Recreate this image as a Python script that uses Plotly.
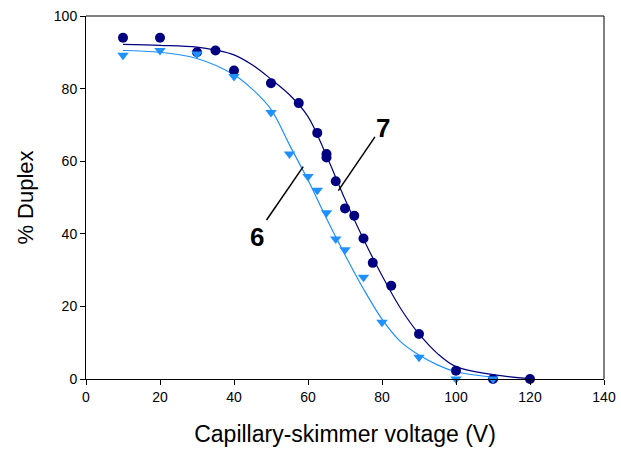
import plotly.graph_objects as go

# Series 7 (dark circles)
x7 = [10, 20, 30, 35, 40, 50, 57.5, 62.5, 65, 65, 67.5, 70, 72.5, 75, 77.5, 82.5, 90, 100, 110, 120]
y7 = [94, 94, 90, 90.5, 85, 81.5, 76, 67.8, 62, 61, 54.5, 47, 45, 38.7, 32, 25.7, 12.4, 2.3, 0, 0]
# Series 6 (light triangles)
x6 = [10, 20, 30, 40, 50, 55, 60, 62.5, 65, 67.5, 70, 75, 80, 90, 100, 110]
y6 = [89.2, 90.5, 89.5, 83.3, 73.4, 62, 55.8, 52, 45.8, 38.6, 35.6, 28, 15.6, 6, 0, 0]

# Fitted curves
fx7 = [10, 20, 30, 35, 40, 45, 50, 55, 60, 65, 70, 75, 80, 85, 90, 95, 100, 110, 120]
fy7 = [92.2, 91.9, 91.4, 90.6, 89.3, 86.5, 82.6, 78.3, 72.3, 61.5, 49.5, 38.5, 28.5, 19.5, 12.4, 7.0, 3.4, 1.2, 0.1]
fx6 = [10, 20, 30, 40, 45, 50, 55, 60, 65, 70, 75, 80, 85, 90, 95, 100, 110]
fy6 = [90.5, 90.0, 88.3, 83.8, 79.8, 74.3, 64.5, 54.8, 44.2, 34.2, 24.8, 16.5, 10.3, 6.6, 3.9, 2.0, 0.5]

x_ticks = [0, 20, 40, 60, 80, 100, 120, 140]
y_ticks = [0, 20, 40, 60, 80, 100]

DARK = "#000080"
LIGHT = "#1E90FF"

fig = go.Figure()
fig.add_trace(go.Scatter(x=fx7, y=fy7, mode="lines", line=dict(color=DARK, width=1.2, shape="spline"),
                         cliponaxis=False, hoverinfo="skip"))
fig.add_trace(go.Scatter(x=fx6, y=fy6, mode="lines", line=dict(color=LIGHT, width=1.2, shape="spline"),
                         cliponaxis=False, hoverinfo="skip"))
fig.add_trace(go.Scatter(x=x7, y=y7, mode="markers", marker=dict(symbol="circle", size=10, color=DARK),
                         cliponaxis=False))
fig.add_trace(go.Scatter(x=x6, y=y6, mode="markers", marker=dict(symbol="triangle-down", size=10, color=LIGHT),
                         cliponaxis=False))

# label callouts
fig.add_shape(type="line", x0=78.1, y0=66.7, x1=68.2, y1=51.9, line=dict(color="black", width=1.5))
fig.add_shape(type="line", x0=48.8, y0=43.8, x1=58.7, y1=58.5, line=dict(color="black", width=1.5))
fig.add_annotation(x=80.4, y=69.1, text="<b>7</b>", showarrow=False,
                   font=dict(family="Liberation Sans, Arial", size=26, color="black"))
fig.add_annotation(x=46.3, y=39.2, text="<b>6</b>", showarrow=False,
                   font=dict(family="Liberation Sans, Arial", size=26, color="black"))

# frame: top gray, right black
fig.add_shape(type="line", xref="paper", yref="paper", x0=0, y0=1, x1=1, y1=1,
              line=dict(color="#808080", width=2))
fig.add_shape(type="line", xref="paper", yref="paper", x0=1, y0=0, x1=1, y1=1,
              line=dict(color="black", width=1))

fig.update_layout(
    width=621, height=455,
    margin=dict(l=86, r=17, t=16, b=76),
    paper_bgcolor="white", plot_bgcolor="white",
    showlegend=False,
    font=dict(family="Liberation Sans, Arial", color="black"),
)
fig.update_xaxes(range=[0, 140], tickvals=x_ticks, ticks="outside", ticklen=5, tickcolor="black",
                 showline=True, linecolor="black", linewidth=1, showgrid=False, zeroline=False,
                 tickfont=dict(size=14), automargin=False,
                 title=dict(text="Capillary-skimmer voltage (V)", font=dict(size=23), standoff=22))
fig.update_yaxes(range=[0, 100], tickvals=y_ticks, ticks="outside", ticklen=5, tickcolor="black",
                 showline=True, linecolor="black", linewidth=1, showgrid=False, zeroline=False,
                 tickfont=dict(size=14), automargin=False,
                 title=dict(text="% Duplex", font=dict(size=22), standoff=14))

fig.write_html("out.html", config={"displayModeBar": False},
               post_script="document.body.style.margin='0';document.body.style.overflow='hidden';")
